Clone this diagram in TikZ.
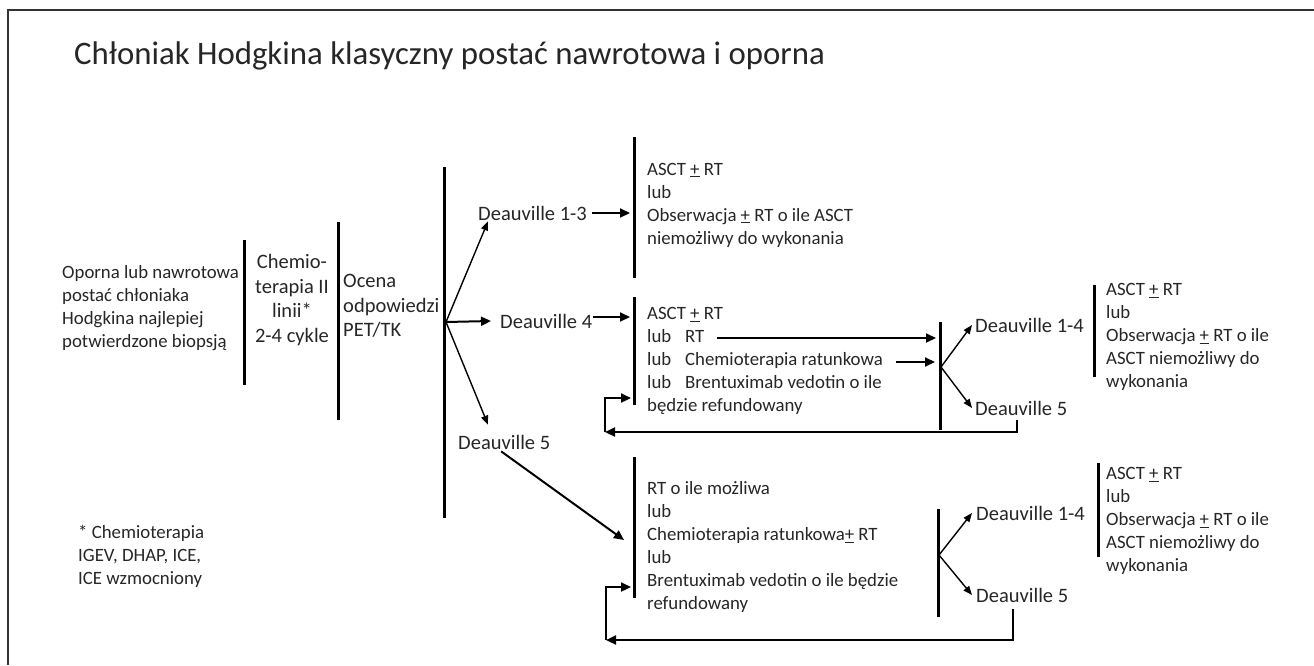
\documentclass[tikz,border=0pt]{standalone}
\usepackage{fontspec}
\setmainfont{Carlito}
\usetikzlibrary{arrows.meta}
\newcommand{\ulplus}{\underline{+}}

\begin{document}
\begin{tikzpicture}[x=1pt, y=-1pt, line join=miter,
  txt/.style={anchor=west, inner sep=0pt, align=left, text=black!85, font=\fontsize{18.8}{23}\selectfont},
  big/.style={txt, font=\fontsize{20.5}{24.5}\selectfont},
  bar/.style={line width=3pt},
  arr/.style={line width=2pt, -{Triangle[length=10pt,width=9pt]}},
  thin/.style={line width=1.4pt, -{Triangle[length=9pt,width=7pt]}},
  back/.style={line width=2.2pt, -{Triangle[length=10pt,width=9pt]}}]

  %% ==== ramka ====
  \draw[line width=1.5pt, black!80] (8,665) -- (8,10) -- (1314,10);

  %% ==== teksty ====
  \node[anchor=base west, inner sep=0pt, text=black!85, font=\fontsize{32.8}{39}\selectfont] (title) at (74,64)
    {Chłoniak Hodgkina klasyczny postać nawrotowa i oporna};
  \node[txt] (opor) at (62,308) {Oporna lub nawrotowa\\postać chłoniaka\\Hodgkina najlepiej\\potwierdzone biopsją};
  \node[big, anchor=center, align=center] (chemio) at (292,300) {Chemio-\\terapia II\\linii*\\2-4 cykle};
  \node[big] (ocena) at (343,306) {Ocena\\odpowiedzi\\PET/TK};
  \node[big] (d13) at (478,213) {Deauville 1-3};
  \node[big] (d4) at (500,321) {Deauville 4};
  \node[big] (d5a) at (458,442) {Deauville 5};
  \node[txt] (asct1) at (647,205) {ASCT \ulplus{} RT\\lub\\Obserwacja \ulplus{} RT o ile ASCT\\niemożliwy do wykonania};
  \node[txt] (asct2) at (647,361) {ASCT \ulplus{} RT\\\makebox[38pt][l]{lub}RT\\\makebox[38pt][l]{lub}Chemioterapia ratunkowa\\\makebox[38pt][l]{lub}Brentuximab vedotin o ile\\będzie refundowany};
  \node[big] (d14a) at (975,325) {Deauville 1-4};
  \node[big] (d5b) at (975,408) {Deauville 5};
  \node[txt] (asct3) at (1106,337) {ASCT \ulplus{} RT\\lub\\Obserwacja \ulplus{} RT o ile\\ASCT niemożliwy do\\wykonania};
  \node[txt] (rt4) at (647,547) {RT o ile możliwa\\lub\\Chemioterapia ratunkowa\ulplus{} RT\\lub\\Brentuximab vedotin o ile będzie\\refundowany};
  \node[big] (d14b) at (976,513) {Deauville 1-4};
  \node[big] (d5c) at (976,595) {Deauville 5};
  \node[txt] (asct4) at (1106,521) {ASCT \ulplus{} RT\\lub\\Obserwacja \ulplus{} RT o ile\\ASCT niemożliwy do\\wykonania};
  \node[txt] (note) at (78,556) {* Chemioterapia\\IGEV, DHAP, ICE,\\ICE wzmocniony};

  %% ==== pionowe kreski ====
  \draw[bar] (244,240) -- (244,385);
  \draw[bar] (338,222) -- (338,420);
  \draw[bar] (444,167) -- (444,518);
  \draw[bar] (634,137) -- (634,278);
  \draw[bar] (634,297) -- (634,405);
  \draw[bar] (940,322) -- (940,430);
  \draw[bar] (1094,285) -- (1094,377);
  \draw[bar] (634,457) -- (634,598);
  \draw[bar] (938,509) -- (938,617);
  \draw[bar] (1098,463) -- (1098,557);

  %% ==== punkty ====
  \coordinate (br1) at (446,322);
  \coordinate (br2) at (941,367);
  \coordinate (br3) at (939,555);
  \coordinate (in1) at (630,213);
  \coordinate (in2) at (630,317);
  \coordinate (rtout) at (717,338);
  \coordinate (rtin) at (936,338);
  \coordinate (chout) at (896,362);
  \coordinate (chin) at (935,362);
  \coordinate (in4) at (624,540);
  \coordinate (lp1) at (605,432);
  \coordinate (lp1in) at (631,398);
  \coordinate (lp2) at (606,640);
  \coordinate (lp2in) at (631,587);

  %% ==== strzalki ====
  \draw[thin] (br1) -- ([xshift=10pt,yshift=-1pt]d13.south west);
  \draw[arr] (br1) -- ([xshift=-9pt]d4.west);
  \draw[thin] (br1) -- ([xshift=30pt,yshift=10pt]d5a.north west);
  \draw[arr] ([xshift=5pt]d13.east) -- (in1);
  \draw[arr] ([xshift=1pt,yshift=4pt]d4.east) -- (in2);
  \draw[arr] (rtout) -- (rtin);
  \draw[arr] (chout) -- (chin);
  \draw[thin] (br2) -- ([xshift=-3pt]d14a.west);
  \draw[thin] (br2) -- ([xshift=-3pt]d5b.west);
  \draw[arr] ([xshift=-3pt,yshift=-2pt]d5a.south) -- (in4);
  \draw[thin] (br3) -- ([xshift=-4pt]d14b.west);
  \draw[thin] (br3) -- ([xshift=-4pt]d5c.west);

  %% ==== powroty ====
  \draw[back] ([xshift=-4pt,yshift=-5pt]d5b.south) |- (lp1);
  \draw[back] (lp1) |- (lp1in);
  \draw[back] ([xshift=-9pt,yshift=-7pt]d5c.south) |- (lp2);
  \draw[back] (lp2) |- (lp2in);

  \pgfresetboundingbox
  \path[use as bounding box] (0,0) rectangle (1314,665);
\end{tikzpicture}
\end{document}
